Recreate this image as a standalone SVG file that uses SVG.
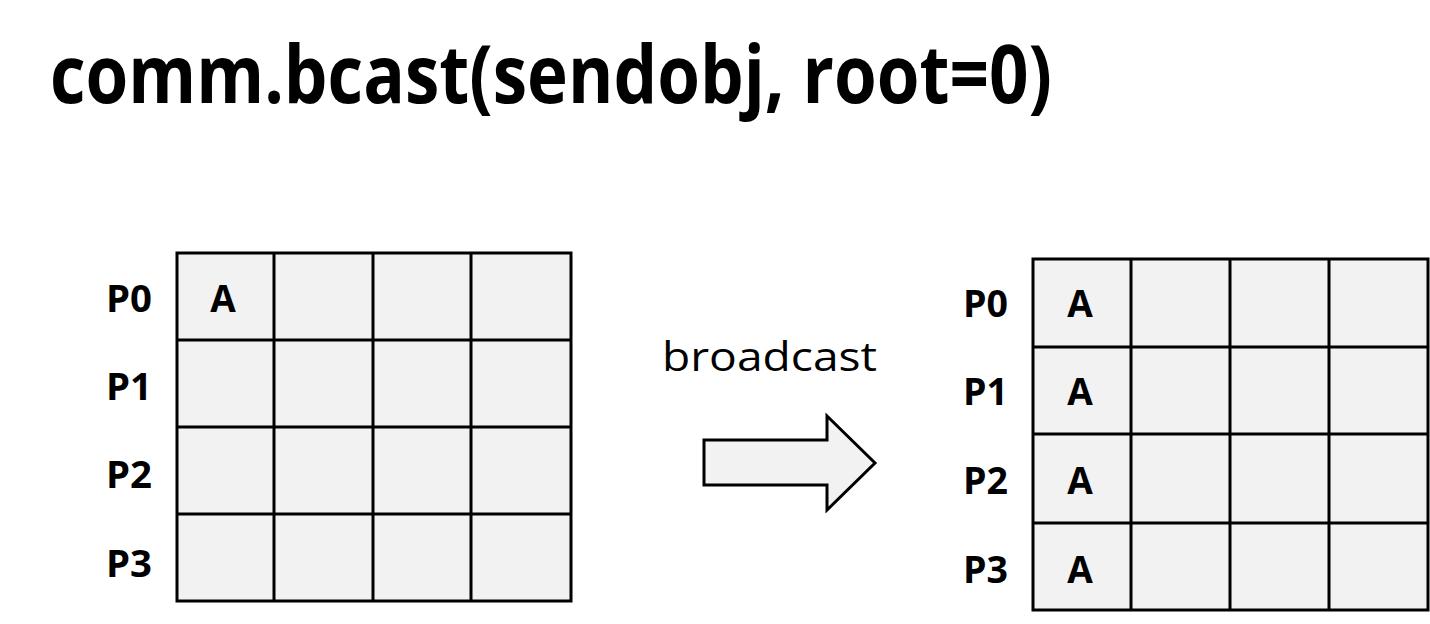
<svg xmlns="http://www.w3.org/2000/svg" width="1430" height="624" viewBox="0 0 1430 624">
<style>
.cell{fill:#f2f2f2;stroke:#000;stroke-width:3}
.lbl{font-family:"Open Sans","Liberation Sans",sans-serif;font-weight:bold;font-size:37px;fill:#000}
.a{font-family:"Open Sans","Liberation Sans",sans-serif;font-weight:bold;font-size:37px;fill:#000;text-anchor:middle}
.title{font-family:"Open Sans","Liberation Sans",sans-serif;font-weight:bold;font-size:80px;fill:#000}
.bc{font-family:"Open Sans","Liberation Sans",sans-serif;font-size:40px;fill:#000}
</style>
<rect width="1430" height="624" fill="#fff"/>
<text class="title" x="50" y="103" textLength="1002" lengthAdjust="spacingAndGlyphs">comm.bcast(sendobj, root=0)</text>

<g id="left-grid">
<rect class="cell" x="177" y="253" width="394" height="348"/>
<path d="M274 253V601M373 253V601M471 253V601M177 340H571M177 427H571M177 514H571" stroke="#000" stroke-width="3" fill="none"/>
<text class="lbl" x="106" y="312" textLength="46" lengthAdjust="spacingAndGlyphs">P0</text>
<text class="lbl" x="106" y="400" textLength="46" lengthAdjust="spacingAndGlyphs">P1</text>
<text class="lbl" x="106" y="488" textLength="46" lengthAdjust="spacingAndGlyphs">P2</text>
<text class="lbl" x="106" y="577" textLength="46" lengthAdjust="spacingAndGlyphs">P3</text>
<text class="a" x="223" y="312">A</text>
</g>

<g id="right-grid">
<rect class="cell" x="1033" y="259" width="395" height="351"/>
<path d="M1131 259V610M1230 259V610M1329 259V610M1033 347H1428M1033 434H1428M1033 523H1428" stroke="#000" stroke-width="3" fill="none"/>
<text class="lbl" x="963" y="317" textLength="45" lengthAdjust="spacingAndGlyphs">P0</text>
<text class="lbl" x="963" y="405" textLength="45" lengthAdjust="spacingAndGlyphs">P1</text>
<text class="lbl" x="963" y="494" textLength="45" lengthAdjust="spacingAndGlyphs">P2</text>
<text class="lbl" x="963" y="583" textLength="45" lengthAdjust="spacingAndGlyphs">P3</text>
<text class="a" x="1080" y="317">A</text>
<text class="a" x="1080" y="405">A</text>
<text class="a" x="1080" y="494">A</text>
<text class="a" x="1080" y="583">A</text>
</g>

<g id="connectors">
<text class="bc" x="662" y="371" textLength="215" lengthAdjust="spacingAndGlyphs">broadcast</text>
<path d="M704 440H827V416L875 463L827 510V485H704Z" fill="#f2f2f2" stroke="#000" stroke-width="3"/>
</g>
</svg>
